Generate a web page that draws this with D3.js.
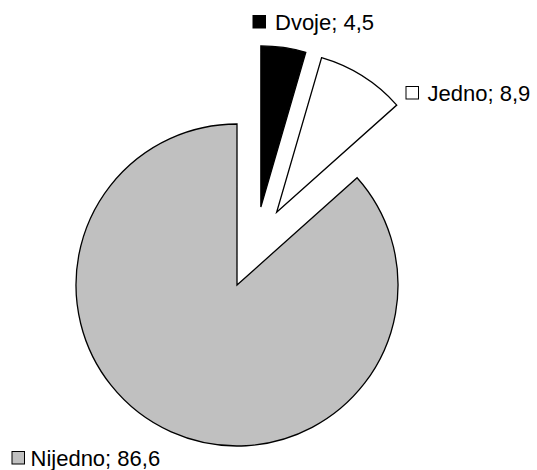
<!DOCTYPE html>
<html>
<head>
<meta charset="utf-8">
<script src="https://cdn.jsdelivr.net/npm/d3@7"></script>
<style>
  html, body { margin: 0; padding: 0; background: #fff; }
  svg { display: block; }
  text { font-family: "Liberation Sans", Arial, sans-serif; font-size: 22px; fill: #000; }
</style>
</head>
<body>
<div id="chart"></div>
<script>
// Number of items (share, %)
const categories = ["Dvoje", "Jedno", "Nijedno"];
const values = [4.5, 8.9, 86.6];

// Appearance of each slice
const fills = ["#000000", "#ffffff", "#c0c0c0"];
// Pulled-out slices: offset distance and direction (degrees clockwise from 12 o'clock)
const explode = [
  { dist: 81.6, angle: 17.0 },
  { dist: 82.8, angle: 28.6 },
  { dist: 0, angle: 0 }
];
// Label anchors (x of text start, baseline y, swatch offset)
const labelPos = [
  { x: 275, y: 29.5, sw: -22 },
  { x: 427.5, y: 100.5, sw: -21.5 },
  { x: 30.5, y: 465.5, sw: -18.5 }
];

const W = 537, H = 470;
const cx = 237, cy = 285, R = 161;

const svg = d3.select("#chart").append("svg")
  .attr("width", W).attr("height", H);

const data = categories.map((c, i) => ({ name: c, value: values[i], i }));

const pie = d3.pie().sort(null).value(d => d.value);
const arc = d3.arc().innerRadius(0).outerRadius(R);

const g = svg.append("g").attr("transform", `translate(${cx},${cy})`);

g.selectAll("path.slice")
  .data(pie(data))
  .join("path")
  .attr("class", "slice")
  .attr("d", arc)
  .attr("transform", d => {
    const e = explode[d.data.i];
    const a = e.angle * Math.PI / 180;
    return `translate(${e.dist * Math.sin(a)},${-e.dist * Math.cos(a)})`;
  })
  .attr("fill", d => fills[d.data.i])
  .attr("stroke", "#000")
  .attr("stroke-width", 1.3)
  .attr("stroke-linejoin", "miter");

const fmt = v => String(v).replace(".", ",");

const labels = svg.selectAll("g.label")
  .data(data)
  .join("g")
  .attr("class", "label")
  .attr("transform", d => `translate(${labelPos[d.i].x},${labelPos[d.i].y})`);

labels.append("rect")
  .attr("x", d => labelPos[d.i].sw)
  .attr("y", -14)
  .attr("width", 12.5)
  .attr("height", 12.5)
  .attr("fill", d => fills[d.i])
  .attr("stroke", "#000")
  .attr("stroke-width", 1);

labels.append("text")
  .attr("x", 0)
  .attr("y", 0)
  .text(d => `${d.name}; ${fmt(d.value)}`);
</script>
</body>
</html>
